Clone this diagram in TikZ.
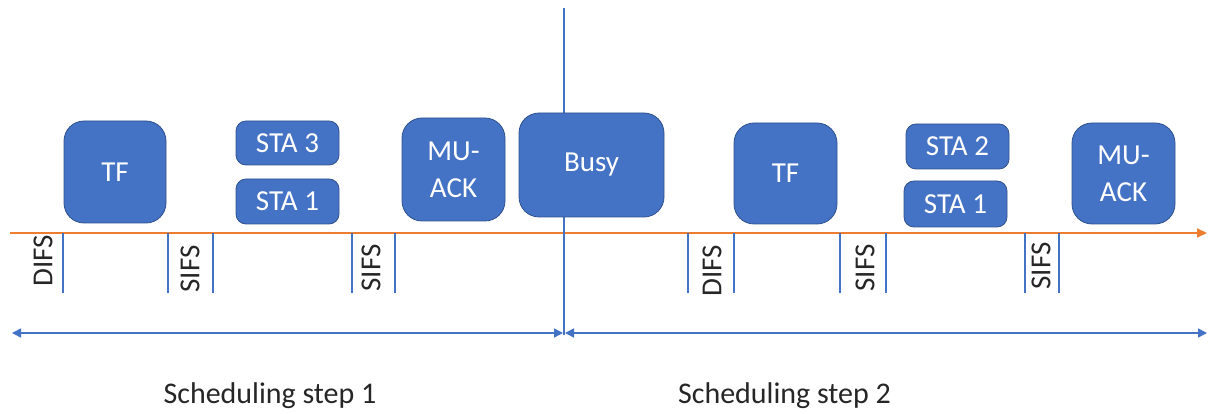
\documentclass[tikz,border=0pt]{standalone}
\usepackage{fontspec}
\setmainfont{Carlito}
\usetikzlibrary{arrows.meta}
\definecolor{boxblue}{HTML}{4472C4}
\definecolor{boxedge}{HTML}{2F528F}
\definecolor{lineblue}{HTML}{4472C4}
\definecolor{timeorange}{HTML}{ED7D31}
\definecolor{labelgray}{HTML}{262626}
\tikzset{
  frame/.style={draw=boxedge, line width=0.8pt, fill=boxblue, text=white,
    inner sep=0pt, align=center, font=\fontsize{29}{37}\selectfont},
  bigframe/.style={frame, rounded corners=20pt},
  smallframe/.style={frame, rounded corners=10pt},
  tick/.style={draw=lineblue, line width=1.4pt},
  gaplabel/.style={rotate=90, text=labelgray, inner sep=0pt,
    font=\fontsize{29}{34}\selectfont},
  steplabel/.style={text=labelgray, inner sep=0pt, anchor=base,
    font=\fontsize{30}{36}\selectfont},
  span/.style={draw=lineblue, line width=1.4pt,
    {Triangle[length=9pt,width=9pt]}-{Triangle[length=9pt,width=9pt]}},
}
\begin{document}
\begin{tikzpicture}[x=1pt, y=-1pt]
\useasboundingbox (0,0) rectangle (1208,414);

% time axis
\coordinate (t0) at (10,233);
\coordinate (t1) at (1207,233);
\draw[timeorange, line width=2pt, -{Triangle[length=10pt,width=9pt]}] (t0) -- (t1);

% split between the two scheduling steps
\coordinate (splittop) at (564,8);
\coordinate (splitbot) at (564,335);
\draw[lineblue, line width=1.4pt] (splittop) -- (splitbot);

% frames, step 1
\node[bigframe, minimum width=102pt, minimum height=102pt] (tfa) at (115,172) {TF};
\node[smallframe, minimum width=103pt, minimum height=44pt] (sta3) at (287.5,143) {STA 3};
\node[smallframe, minimum width=103pt, minimum height=45pt] (sta1a) at (287.5,201.5) {STA 1};
\node[bigframe, minimum width=103pt, minimum height=103pt] (acka) at (453.5,169.5) {MU-\\ACK};
\node[bigframe, minimum width=145pt, minimum height=104pt] (busy) at (591.5,165) {Busy};

% frames, step 2
\node[bigframe, minimum width=103pt, minimum height=101pt] (tfb) at (785.5,173.5) {TF};
\node[smallframe, minimum width=103pt, minimum height=45pt] (sta2) at (957.5,146.5) {STA 2};
\node[smallframe, minimum width=103pt, minimum height=46pt] (sta1b) at (955.5,204) {STA 1};
\node[bigframe, minimum width=103pt, minimum height=101pt] (ackb) at (1123.5,173.5) {MU-\\ACK};

% interframe space markers
\foreach \x/\n in {63/a, 168/b, 213/c, 352/d, 395/e, 688/f, 734/g, 840/h, 886/i, 1025/j, 1059/k} {
  \coordinate (m\n top) at (\x,233);
  \coordinate (m\n bot) at (\x,293);
  \draw[tick] (m\n top) -- (m\n bot);
}
\node[gaplabel] (difsa) at (43,261) {DIFS};
\node[gaplabel] (sifsa) at (190,269) {SIFS};
\node[gaplabel] (sifsb) at (371,268) {SIFS};
\node[gaplabel] (difsb) at (712,271) {DIFS};
\node[gaplabel] (sifsc) at (865,268) {SIFS};
\node[gaplabel] (sifsd) at (1041,266) {SIFS};

% extent of each scheduling step
\coordinate (sa0) at (12,333);
\coordinate (sa1) at (563,333);
\coordinate (sb0) at (565,333);
\coordinate (sb1) at (1207,333);
\draw[span] (sa0) -- (sa1);
\draw[span] (sb0) -- (sb1);

\node[steplabel] (stepa) at (270,403) {Scheduling step 1};
\node[steplabel] (stepb) at (784.5,403) {Scheduling step 2};
\end{tikzpicture}
\end{document}
